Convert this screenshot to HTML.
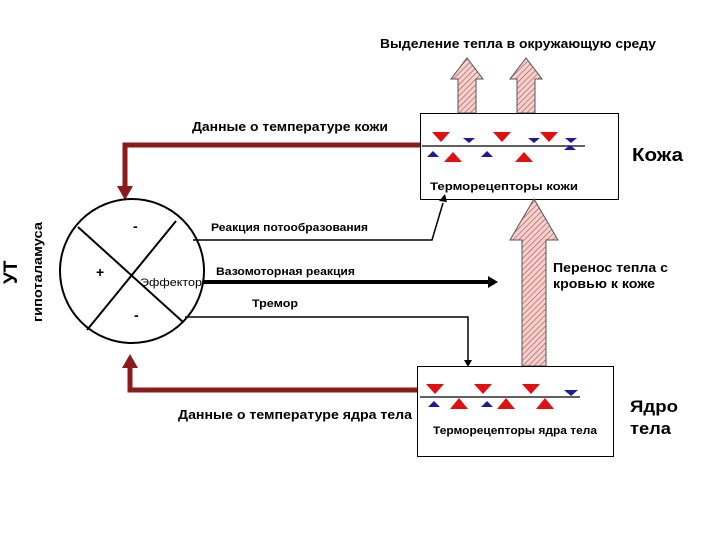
<!DOCTYPE html>
<html><head><meta charset="utf-8"><style>
body{margin:0;background:#fff;}
svg text{font-family:"Liberation Sans",sans-serif;font-weight:bold;}
</style></head><body>
<svg width="720" height="540" viewBox="0 0 720 540" xmlns="http://www.w3.org/2000/svg">
<defs>
<pattern id="h" width="4" height="4" patternUnits="userSpaceOnUse" patternTransform="rotate(45)">
<rect width="4" height="4" fill="#f6d0cc"/><line x1="0" y1="0" x2="0" y2="4" stroke="#a05050" stroke-width="1.2"/>
</pattern>
</defs>
<text x="380" y="48" font-size="12.5" textLength="276" lengthAdjust="spacingAndGlyphs">Выделение тепла в окружающую среду</text>
<polygon points="458,113 458,79 451,79 467,58 483,79 476,79 476,113" fill="url(#h)" stroke="#555" stroke-width="1"/>
<polygon points="517,113 517,79 510,79 526,58 542,79 535,79 535,113" fill="url(#h)" stroke="#555" stroke-width="1"/>
<rect x="420.5" y="113.5" width="198" height="86" fill="#fff" stroke="#000" stroke-width="1"/>
<line x1="422" y1="146" x2="585" y2="146" stroke="#000" stroke-width="1.3"/>
<g fill="#e01010">
<polygon points="432,132 450,132 441,142"/><polygon points="493,132 511,132 502,142"/><polygon points="540,132 558,132 549,142"/>
<polygon points="444,162 462,162 453,152"/><polygon points="515,162 533,162 524,152"/>
</g>
<g fill="#1a1a9a">
<polygon points="463,138 475,138 469,143"/><polygon points="528,138 540,138 534,143"/><polygon points="565,138 577,138 571,143"/>
<polygon points="427,157 439,157 433,151"/><polygon points="481,157 493,157 487,151"/><polygon points="564,150 576,150 570,145"/>
</g>
<text x="632" y="161" font-size="18" textLength="51" lengthAdjust="spacingAndGlyphs">Кожа</text>
<text x="430" y="190" font-size="11" textLength="148" lengthAdjust="spacingAndGlyphs">Терморецепторы кожи</text>
<polyline points="420,145 125,145 125,190" fill="none" stroke="#8b1a1a" stroke-width="5"/>
<polygon points="117,186 133,186 125,200" fill="#8b1a1a"/>
<text x="192" y="131" font-size="12.5" textLength="196" lengthAdjust="spacingAndGlyphs">Данные о температуре кожи</text>
<circle cx="132" cy="271" r="72" fill="#fff" stroke="#000" stroke-width="2"/>
<line x1="78" y1="227" x2="183" y2="322" stroke="#000" stroke-width="2"/>
<line x1="176" y1="221" x2="87" y2="330" stroke="#000" stroke-width="2"/>
<text x="133" y="231" font-size="14">-</text>
<text x="96" y="277" font-size="14">+</text>
<text x="134" y="320" font-size="14">-</text>
<text x="140" y="286" font-size="11" style="font-weight:normal" textLength="62" lengthAdjust="spacingAndGlyphs">Эффектор</text>
<text transform="translate(17,284) rotate(-90)" font-size="19">УТ</text>
<text transform="translate(42,322) rotate(-90)" font-size="13" textLength="100" lengthAdjust="spacingAndGlyphs">гипоталамуса</text>
<polyline points="193,240 432,240 443,203" fill="none" stroke="#000" stroke-width="1.5"/>
<polygon points="439,201 447,202 445,194" fill="#000"/>
<text x="211" y="231" font-size="11" textLength="157" lengthAdjust="spacingAndGlyphs">Реакция потообразования</text>
<line x1="203" y1="282" x2="490" y2="282" stroke="#000" stroke-width="4"/>
<polygon points="488,276 498,282 488,288" fill="#000"/>
<text x="216" y="275" font-size="11" textLength="139" lengthAdjust="spacingAndGlyphs">Вазомоторная реакция</text>
<polyline points="185,317 468,317 468,360" fill="none" stroke="#000" stroke-width="1.5"/>
<polygon points="464,360 472,360 468,367" fill="#000"/>
<text x="252" y="307" font-size="11" textLength="46" lengthAdjust="spacingAndGlyphs">Тремор</text>
<polygon points="522,366 522,240 510,240 534,199 558,240 546,240 546,366" fill="url(#h)" stroke="#555" stroke-width="1"/>
<text x="553" y="272" font-size="13" textLength="115" lengthAdjust="spacingAndGlyphs">Перенос тепла с</text>
<text x="553" y="288" font-size="13" textLength="102" lengthAdjust="spacingAndGlyphs">кровью к коже</text>
<rect x="417.5" y="366.5" width="196" height="90" fill="#fff" stroke="#000" stroke-width="1"/>
<line x1="420" y1="397" x2="580" y2="397" stroke="#000" stroke-width="1.3"/>
<g fill="#e01010">
<polygon points="426,384 444,384 435,394"/><polygon points="474,384 492,384 483,394"/><polygon points="522,384 540,384 531,394"/>
<polygon points="450,409 468,409 459,398"/><polygon points="497,409 515,409 506,398"/><polygon points="536,409 554,409 545,398"/>
</g>
<g fill="#1a1a9a">
<polygon points="564,390 578,390 571,396"/><polygon points="428,407 440,407 434,401"/><polygon points="481,407 493,407 487,401"/>
</g>
<text x="433" y="434" font-size="11" textLength="164" lengthAdjust="spacingAndGlyphs">Терморецепторы ядра тела</text>
<text x="630" y="412" font-size="17" textLength="48" lengthAdjust="spacingAndGlyphs">Ядро</text>
<text x="630" y="434" font-size="17" textLength="41" lengthAdjust="spacingAndGlyphs">тела</text>
<polyline points="417,390 130,390 130,365" fill="none" stroke="#8b1a1a" stroke-width="5"/>
<polygon points="122,368 138,368 130,354" fill="#8b1a1a"/>
<text x="178" y="419" font-size="12.5" textLength="234" lengthAdjust="spacingAndGlyphs">Данные о температуре ядра тела</text>
</svg>
</body></html>
